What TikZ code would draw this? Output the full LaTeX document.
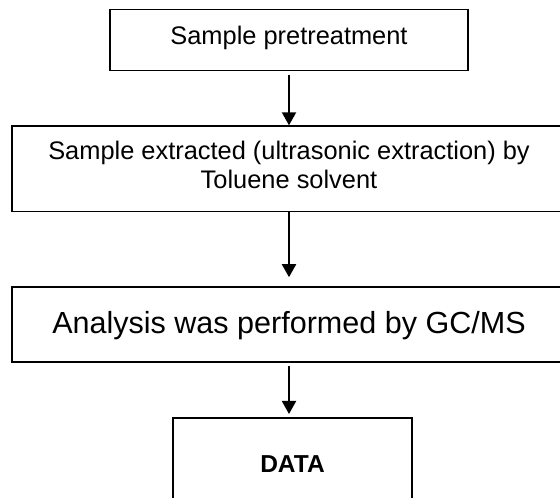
\documentclass[tikz,border=0pt]{standalone}
\usepackage{fontspec}
\setmainfont{Liberation Sans}
\usetikzlibrary{arrows.meta}
\tikzset{
  flowbox/.style={draw=black, rectangle, inner xsep=0pt, inner ysep=0pt, align=center, line width=1pt},
  smalltext/.style={font=\fontsize{19.05pt}{21.75pt}\selectfont},
  bigtext/.style={font=\fontsize{22.9pt}{26pt}\selectfont},
  datatext/.style={font=\fontsize{18.4pt}{21pt}\selectfont\bfseries},
  flowarrow/.style={line width=1.5pt, -{Triangle[width=10.5pt,length=9.75pt]}}
}
\begin{document}
\begin{tikzpicture}[x=0.75pt, y=-0.75pt]
\useasboundingbox (0,0) rectangle (560,498);
\clip (0,0) rectangle (560,498);
\fill[white] (0,0) rectangle (560,498);
\node[flowbox, smalltext, minimum width=268.5pt, minimum height=45.9pt,
      text height=6.08pt, text depth=0pt] (b1) at (289,40.1) {Sample pretreatment};
\node[flowbox, smalltext, minimum width=415.5pt, minimum height=64pt,
      text height=29.5pt, text depth=0pt] (b2) at (289,168.65)
      {Sample extracted (ultrasonic extraction) by\\Toluene solvent};
\node[flowbox, bigtext, line width=1.2pt, minimum width=415.5pt, minimum height=56.25pt,
      text height=14.25pt, text depth=0pt] (b3) at (289,324.5) {Analysis was performed by GC/MS};
\node[flowbox, datatext, line width=1.5pt, minimum width=179.25pt, minimum height=68.85pt] (d) at (292.5,463.9) {DATA};
\draw[flowarrow, shorten <=2.5pt] (b1.south) -- (b2.north);
\draw[flowarrow, shorten >=6.75pt] (b2.south) -- (b3.north);
\draw[flowarrow, shorten <=2.25pt, shorten >=2.25pt] (b3.south) -- (b3.south |- d.north);
\end{tikzpicture}
\end{document}
